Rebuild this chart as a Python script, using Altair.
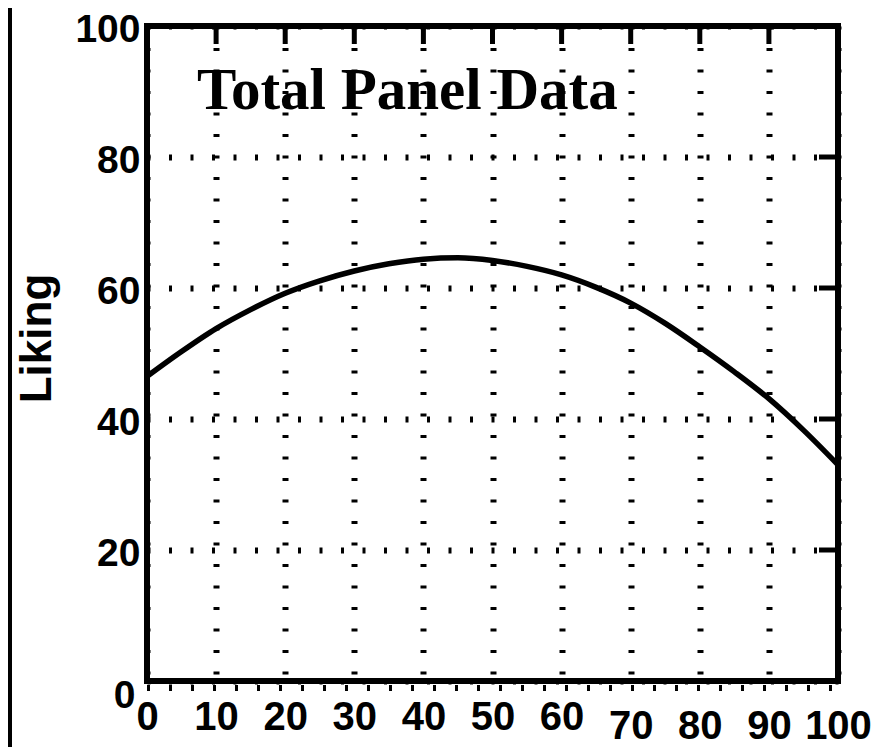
import altair as alt
import pandas as pd

# Data
x_values = [0, 5, 10, 15, 20, 25, 30, 35, 40, 45, 50, 55, 60, 65, 70, 75, 80, 85, 90, 95, 100]
liking = [46.5, 50.3, 53.8, 56.7, 59.2, 61.1, 62.6, 63.7, 64.4, 64.6, 64.2, 63.3, 62.0, 60.1,
          57.7, 54.6, 51.0, 47.2, 43.1, 38.3, 33.0]
x_ticks = [0, 10, 20, 30, 40, 50, 60, 70, 80, 90, 100]
y_ticks = [0, 20, 40, 60, 80, 100]
top_inner_ticks = [10, 20, 30, 40, 50, 60, 70, 80, 90]
right_inner_ticks = [20, 40, 60, 80]
panel_title = "Total Panel Data"
y_title = "Liking"

W, H = 691, 655

curve_df = pd.DataFrame({"x": x_values, "y": liking})

xscale = alt.Scale(domain=[0, 100], nice=False, zero=False)
yscale = alt.Scale(domain=[0, 100], nice=False, zero=False)

x_axis = alt.Axis(
    values=x_ticks, title=None, domain=False, ticks=False,
    labelFont="Liberation Sans", labelFontWeight="bold", labelFontSize=40,
    labelColor="black", labelFlush=False, labelOverlap=False,
    labelBaseline="top",
    labelPadding={"condition": {"test": "datum.value >= 70", "value": 25}, "value": 16},
    grid=True, gridColor="black", gridWidth=6, gridDash=[3, 18.5], gridOpacity=1,
)
y_axis = alt.Axis(
    values=y_ticks, title=y_title, domain=False, ticks=False,
    labelFont="Liberation Sans", labelFontWeight="bold", labelFontSize=39,
    labelColor="black", labelFlush=False, labelOverlap=False,
    labelPadding={"condition": {"test": "datum.value == 0", "value": 12}, "value": 7},
    labelBaseline="middle",
    labelOffset={"condition": {"test": "datum.value == 0", "value": 14}, "value": 3},
    grid=True, gridColor="black", gridWidth=6, gridDash=[3, 18.5], gridOpacity=1,
    titleFont="Liberation Sans", titleFontWeight="bold", titleFontSize=44,
    titleColor="black", titleAngle=270, titleAlign="center",
    titleBaseline="alphabetic", titleX=-97, titleY=312,
)

curve = alt.Chart(curve_df).mark_line(
    color="black", strokeWidth=5.5, interpolate="monotone", clip=True
).encode(
    x=alt.X("x:Q", scale=xscale, axis=x_axis),
    y=alt.Y("y:Q", scale=yscale, axis=y_axis),
)

top_ticks = alt.Chart(pd.DataFrame({"x": top_inner_ticks})).mark_rule(
    color="black", strokeWidth=5
).encode(
    x=alt.X("x:Q", scale=xscale),
    y=alt.value(0), y2=alt.value(18),
)

right_ticks = alt.Chart(pd.DataFrame({"y": right_inner_ticks})).mark_rule(
    color="black", strokeWidth=5
).encode(
    y=alt.Y("y:Q", scale=yscale),
    x=alt.value(W - 19), x2=alt.value(W),
)

bottom_dots = alt.Chart(pd.DataFrame({"k": [0]})).mark_rule(
    color="black", strokeWidth=6, strokeDash=[3, 19]
).encode(
    x=alt.value(0), x2=alt.value(W), y=alt.value(H + 7),
)

left_bar = alt.Chart(pd.DataFrame({"k": [0]})).mark_rule(
    color="black", strokeWidth=4
).encode(
    x=alt.value(-137), y=alt.value(-18), y2=alt.value(H + 80),
)

title_text = alt.Chart(pd.DataFrame({"t": [panel_title]})).mark_text(
    font="Liberation Serif", fontWeight="bold", fontSize=59, color="black",
    align="left", baseline="alphabetic"
).encode(
    x=alt.value(50), y=alt.value(83), text="t:N",
)

chart = alt.layer(curve, top_ticks, right_ticks, bottom_dots, left_bar, title_text).properties(
    width=W, height=H,
    autosize=alt.AutoSizeParams(type="none"),
    padding={"left": 139, "top": 18, "right": 37, "bottom": 66},
    background="white",
).configure_view(stroke="black", strokeWidth=6)

chart.save("out.html", embed_options={"renderer": "svg", "actions": False})
